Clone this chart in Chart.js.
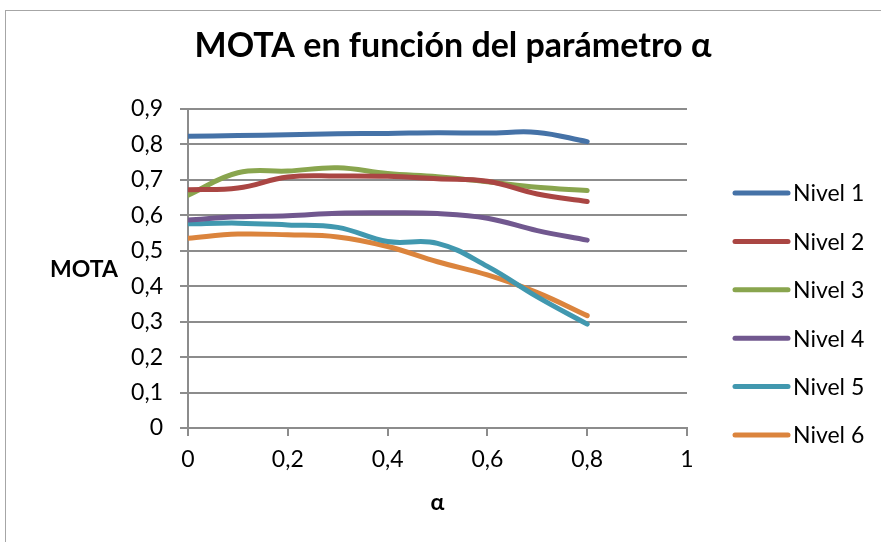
<!DOCTYPE html>
<html lang="es">
<head>
    <meta charset="UTF-8">
    <title>MOTA en función del parámetro α</title>
    <script src="https://cdn.jsdelivr.net/npm/chart.js"></script>
    <style>
        html, body { margin: 0; padding: 0; background: #fff; overflow: hidden; }
        #wrap { position: relative; width: 881px; height: 542px; }
        #frame { position: absolute; left: 5px; top: 10px; right: -10px; bottom: -10px; border: 1px solid #a6a6a6; }
    </style>
</head>
<body>
    <div id="wrap">
        <div id="frame"></div>
        <canvas id="motaChart" width="881" height="542"></canvas>
    </div>

    <script>
        // valores de alfa (eje x)
        const alphas = [0, 0.1, 0.2, 0.3, 0.4, 0.5, 0.6, 0.7, 0.8];
        const seriesNames = ['Nivel 1', 'Nivel 2', 'Nivel 3', 'Nivel 4', 'Nivel 5', 'Nivel 6'];
        const nivel1 = [0.823, 0.825, 0.827, 0.830, 0.831, 0.833, 0.832, 0.834, 0.808];
        const nivel2 = [0.672, 0.677, 0.708, 0.711, 0.710, 0.703, 0.696, 0.660, 0.639];
        const nivel3 = [0.657, 0.720, 0.725, 0.734, 0.718, 0.709, 0.695, 0.679, 0.670];
        const nivel4 = [0.587, 0.596, 0.599, 0.606, 0.607, 0.605, 0.592, 0.557, 0.530];
        const nivel5 = [0.576, 0.578, 0.573, 0.566, 0.526, 0.521, 0.456, 0.370, 0.293];
        const nivel6 = [0.535, 0.547, 0.545, 0.539, 0.512, 0.469, 0.432, 0.382, 0.317];
        const xTicks = [0, 0.2, 0.4, 0.6, 0.8, 1];
        const yTicks = [0, 0.1, 0.2, 0.3, 0.4, 0.5, 0.6, 0.7, 0.8, 0.9];
        const colors = ['#4572A7', '#AA4643', '#89A54E', '#71588F', '#4198AF', '#DB843D'];

        const allSeries = [nivel1, nivel2, nivel3, nivel4, nivel5, nivel6];
        const fontFamily = 'Lato, "Open Sans", sans-serif';

        function toComma(v) {
            if (Math.abs(v) < 1e-9) return '0';
            if (Math.abs(v - 1) < 1e-9) return '1';
            return v.toFixed(1).replace('.', ',');
        }

        // título, etiqueta del eje y horizontal y leyenda
        const extras = {
            id: 'extras',
            afterDraw(chart) {
                const ctx = chart.ctx;
                ctx.save();
                ctx.fillStyle = '#000';
                ctx.textBaseline = 'middle';

                ctx.font = 'bold 34px ' + fontFamily;
                ctx.textAlign = 'center';
                ctx.fillText('MOTA en función del parámetro α', 453, 46);

                ctx.font = 'bold 23px ' + fontFamily;
                ctx.fillText('MOTA', 84, 270);

                ctx.textAlign = 'left';
                ctx.font = '23px ' + fontFamily;
                ctx.lineCap = 'round';
                ctx.lineWidth = 5;
                seriesNames.forEach((name, i) => {
                    const y = 193 + i * 48.4;
                    ctx.strokeStyle = colors[i];
                    ctx.beginPath();
                    ctx.moveTo(735, y);
                    ctx.lineTo(788, y);
                    ctx.stroke();
                    ctx.fillText(name, 793, y + 1);
                });
                ctx.restore();
            }
        };

        const ctx = document.getElementById('motaChart').getContext('2d');
        new Chart(ctx, {
            type: 'line',
            data: {
                datasets: allSeries.map((vals, i) => ({
                    label: seriesNames[i],
                    data: alphas.map((a, j) => ({ x: a, y: vals[j] })),
                    borderColor: colors[i],
                    backgroundColor: colors[i],
                    borderWidth: 5,
                    borderCapStyle: 'round',
                    pointRadius: 0,
                    tension: 0.4,
                    fill: false
                }))
            },
            options: {
                responsive: false,
                animation: false,
                layout: { padding: { left: 0, right: 194, top: 109, bottom: 26 } },
                plugins: {
                    legend: { display: false },
                    title: { display: false },
                    tooltip: { enabled: false }
                },
                scales: {
                    x: {
                        type: 'linear',
                        min: 0,
                        max: 1,
                        afterBuildTicks(scale) { scale.ticks = xTicks.map(v => ({ value: v })); },
                        afterFit(scale) { scale.height = 542 - 428 - 26; },
                        grid: { drawOnChartArea: false, color: '#8c8c8c', lineWidth: 2, tickLength: 8 },
                        border: { color: '#8c8c8c', width: 2 },
                        ticks: {
                            color: '#000',
                            font: { family: fontFamily, size: 23 },
                            padding: 10,
                            maxRotation: 0,
                            callback: v => toComma(v)
                        },
                        title: {
                            display: true,
                            text: 'α',
                            color: '#000',
                            font: { family: fontFamily, size: 23, weight: 'bold' },
                            padding: { top: 8, bottom: 0 }
                        }
                    },
                    y: {
                        min: 0,
                        max: 0.9,
                        afterBuildTicks(scale) { scale.ticks = yTicks.map(v => ({ value: v })); },
                        afterFit(scale) { scale.width = 188; },
                        grid: { color: '#8c8c8c', lineWidth: 2, tickLength: 8 },
                        border: { color: '#8c8c8c', width: 2 },
                        ticks: {
                            color: '#000',
                            font: { family: fontFamily, size: 23 },
                            padding: 17,
                            callback: v => toComma(v)
                        }
                    }
                }
            },
            plugins: [extras]
        });
    </script>
</body>
</html>
